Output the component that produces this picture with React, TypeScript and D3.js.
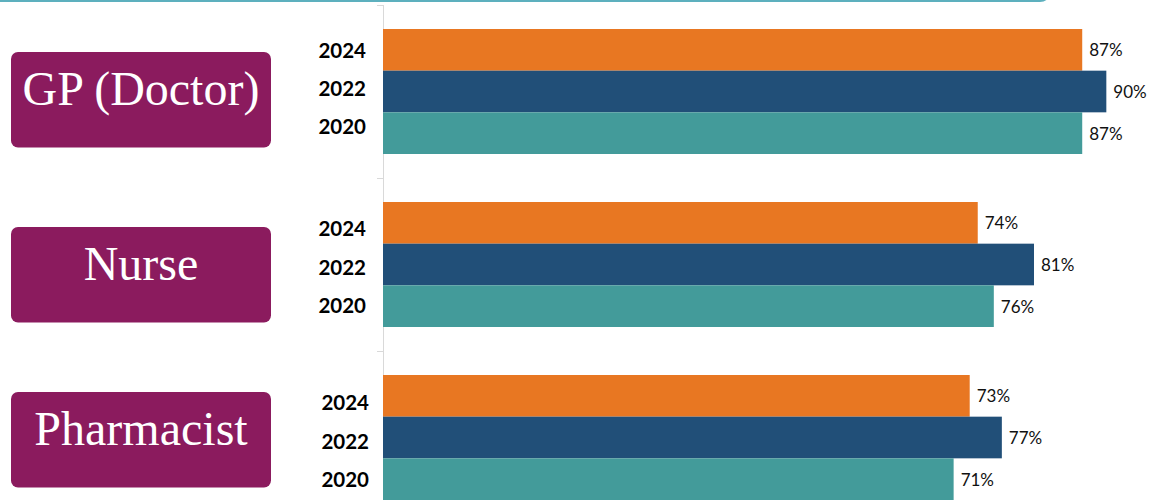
import React from "react";
import * as d3 from "d3";

const categories = ["GP (Doctor)", "Nurse", "Pharmacist"];
const years = ["2024", "2022", "2020"];
const values2024 = [0.87, 0.74, 0.73];
const values2022 = [0.9, 0.81, 0.77];
const values2020 = [0.87, 0.76, 0.71];
const valueLabels2024 = ["87%", "74%", "73%"];
const valueLabels2022 = ["90%", "81%", "77%"];
const valueLabels2020 = ["87%", "76%", "71%"];

const seriesValues = [values2024, values2022, values2020];
const seriesLabels = [valueLabels2024, valueLabels2022, valueLabels2020];
const seriesColors = ["#E87722", "#214F78", "#439B9A"];

const W = 1149;
const H = 500;
const PLOT_LEFT = 383;
const PLOT_TOP = 5;
const BAND = 173;

// layout nudges (not data)
const boxTopOffset = [47, 49, 41];
const yearLabelNudgeY = [-3.5, 2, 3];
const yearLabelNudgeX = [0, 0, 3];

export default function App() {
  const y0 = d3
    .scaleBand<string>()
    .domain(categories)
    .range([PLOT_TOP, PLOT_TOP + BAND * categories.length])
    .paddingInner(0)
    .paddingOuter(0);

  const y1 = d3
    .scaleBand<string>()
    .domain(years)
    .range([0, y0.bandwidth()])
    .paddingInner(0)
    .paddingOuter(0.576);

  const x = d3.scaleLinear().domain([0, 1]).range([PLOT_LEFT, 1186.7]);

  const boundaries = categories.map((c) => y0(c) as number).concat([PLOT_TOP + BAND * categories.length]);

  return (
    <svg
      width={W}
      height={H}
      style={{ position: "fixed", left: 0, top: 0, background: "#fff" }}
    >
      <rect x={0} y={0} width={W} height={H} fill="#fff" />
      {/* top decorative line */}
      <path d="M0,1 H1040 Q1047,1 1049,-6" fill="none" stroke="#5DB0BE" strokeWidth={2} />

      {/* axis */}
      <line x1={PLOT_LEFT + 0.5} x2={PLOT_LEFT + 0.5} y1={PLOT_TOP} y2={PLOT_TOP + BAND * 3} stroke="#D9D9D9" strokeWidth={1} />
      {boundaries.map((b, i) => (
        <line key={i} x1={377} x2={PLOT_LEFT + 0.5} y1={b + 0.5} y2={b + 0.5} stroke="#D9D9D9" strokeWidth={1} />
      ))}

      {categories.map((cat, ci) => {
        const bandTop = y0(cat) as number;
        const groupCenter = bandTop + y0.bandwidth() / 2;
        const boxTop = bandTop + boxTopOffset[ci];
        return (
          <g key={cat}>
            {/* category box */}
            <rect x={11} y={boxTop} width={260} height={95.5} rx={7} ry={7} fill="#8B1B5E" />
            <text
              x={141}
              y={boxTop + 53}
              textAnchor="middle"
              fill="#fff"
              fontFamily="'Liberation Serif', 'Times New Roman', serif"
              fontSize={48}
            >
              {cat}
            </text>

            {years.map((yr, si) => {
              const v = seriesValues[si][ci];
              const by = bandTop + (y1(yr) as number);
              const bh = y1.bandwidth();
              return (
                <g key={yr}>
                  <rect x={x(0)} y={by} width={x(v) - x(0)} height={bh} fill={seriesColors[si]} />
                  <text
                    x={x(v) + 7}
                    y={by + bh / 2}
                    dominantBaseline="central"
                    fontFamily="Lato, 'Open Sans', sans-serif"
                    fontSize={17}
                    fill="#111"
                  >
                    {seriesLabels[si][ci]}
                  </text>
                  <text
                    x={366 + yearLabelNudgeX[ci]}
                    y={groupCenter + yearLabelNudgeY[ci] + (si - 1) * 38.3}
                    textAnchor="end"
                    dominantBaseline="central"
                    fontFamily="Lato, 'Open Sans', sans-serif"
                    fontWeight="bold"
                    fontSize={20.5}
                    fill="#000"
                  >
                    {yr}
                  </text>
                </g>
              );
            })}
          </g>
        );
      })}
    </svg>
  );
}
